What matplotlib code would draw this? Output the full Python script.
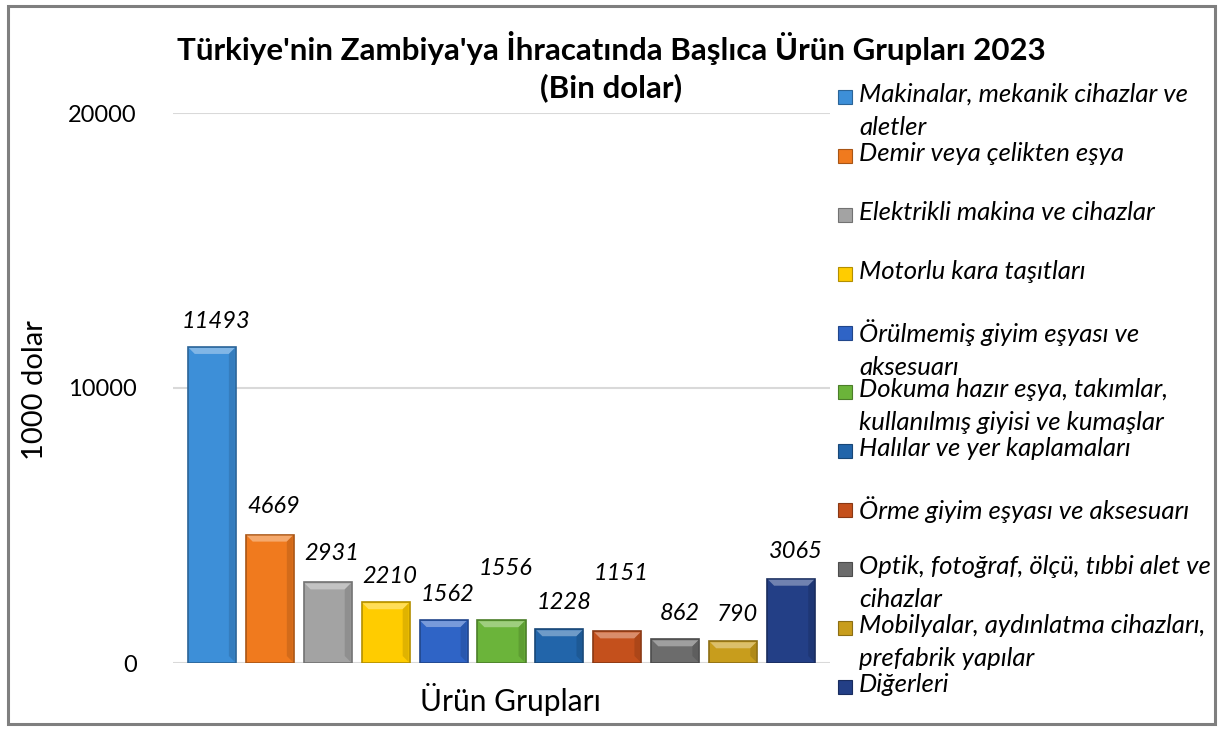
import matplotlib
matplotlib.use("Agg")
import matplotlib.pyplot as plt
from matplotlib.patches import Rectangle, Polygon
import matplotlib.colors as mcolors

plt.rcParams['font.family'] = ['Lato', 'DejaVu Sans']

categories = [
    "Makinalar, mekanik cihazlar ve\naletler",
    "Demir veya çelikten eşya",
    "Elektrikli makina ve cihazlar",
    "Motorlu kara taşıtları",
    "Örülmemiş giyim eşyası ve\naksesuarı",
    "Dokuma hazır eşya, takımlar,\nkullanılmış giyisi ve kumaşlar",
    "Halılar ve yer kaplamaları",
    "Örme giyim eşyası ve aksesuarı",
    "Optik, fotoğraf, ölçü, tıbbi alet ve\ncihazlar",
    "Mobilyalar, aydınlatma cihazları,\nprefabrik yapılar",
    "Diğerleri",
]
values = [11493, 4669, 2931, 2210, 1562, 1556, 1228, 1151, 862, 790, 3065]
colors = ["#3D8FD8", "#F07A1E", "#A3A3A3", "#FFCC00", "#2F64C6", "#6BB43A",
          "#2265AA", "#C4501C", "#6C6C6C", "#C89D1C", "#233F86"]
yticks = [0, 10000, 20000]
# label vertical offsets (points) above bar tops
label_offsets = [11, 13, 13, 11, 11, 30, 12, 34, 11, 12, 12]

W, H = 1223, 731
fig = plt.figure(figsize=(W / 100, H / 100), dpi=100)
fig.patch.set_facecolor("white")

# outer border
fig.add_artist(Rectangle((8 / W, 7 / H), 1207 / W, 718 / H, transform=fig.transFigure,
                         fill=False, edgecolor="#7F7F7F", linewidth=2.2))

ax = fig.add_axes([173 / W, 1 - 663 / H, (830 - 173) / W, (663 - 113) / H])
x = list(range(len(values)))
ax.set_xlim(-0.67, len(values) - 1 + 0.67)
ax.set_ylim(0, 20000)
ax.set_yticks(yticks)
ax.set_yticklabels([str(t) for t in yticks], fontsize=17)
ax.tick_params(axis="y", length=0, pad=26)
ax.set_xticks([])
for s in ax.spines.values():
    s.set_visible(False)
ax.grid(axis="y", color="#D9D9D9", linewidth=1.5)
ax.set_axisbelow(True)

width = 0.83
bars = ax.bar(x, values, width=width, color=colors, zorder=2)
for b, c in zip(bars, colors):
    dark = [v * 0.7 for v in mcolors.to_rgb(c)]
    b.set_edgecolor(dark)
    b.set_linewidth(1.2)

# bevel highlight on top
fig.canvas.draw()
bev = 7
base_y = ax.transData.transform((0, 0))[1]
for xi, v, c in zip(x, values, colors):
    (x0, y1) = ax.transData.transform((xi - width / 2, v))
    (x1, _) = ax.transData.transform((xi + width / 2, v))
    light = [min(1, t + (1 - t) * 0.35) for t in mcolors.to_rgb(c)]
    dark = [t * 0.8 for t in mcolors.to_rgb(c)]
    ax.add_patch(Polygon([(x0 + 1, y1 - 1), (x1 - 1, y1 - 1), (x1 - bev, y1 - bev), (x0 + bev, y1 - bev)],
                         closed=True, transform=None, facecolor=light, edgecolor="none", zorder=3))
    ax.add_patch(Polygon([(x1 - 1, y1 - 1), (x1 - 1, base_y + 1),
                          (x1 - bev, base_y + bev), (x1 - bev, y1 - bev)],
                         closed=True, transform=None, facecolor=dark, edgecolor="none", zorder=3, alpha=0.6))

for xi, v, off in zip(x, values, label_offsets):
    ax.annotate(str(v), (xi, v), xytext=(3, off), textcoords="offset points",
                ha="center", va="bottom", fontsize=17, style="italic")

fig.text(611 / W, 1 - 48 / H, "Türkiye'nin Zambiya'ya İhracatında Başlıca Ürün Grupları 2023",
         ha="center", va="center", fontsize=22.5, fontweight="bold")
fig.text(611 / W, 1 - 88 / H, "(Bin dolar)", ha="center", va="center", fontsize=22.5, fontweight="bold")

fig.text(35 / W, 1 - 390 / H, "1000 dolar", rotation=90, ha="center", va="center", fontsize=21)
fig.text(510 / W, 1 - 700 / H, "Ürün Grupları", ha="center", va="center", fontsize=21.5)

# legend
for i, (lab, c) in enumerate(zip(categories, colors)):
    yc = 97 + 59 * i
    fig.add_artist(Rectangle((838 / W, 1 - (yc + 7) / H), 14 / W, 14 / H, transform=fig.transFigure,
                             facecolor=c, edgecolor=[t * 0.7 for t in mcolors.to_rgb(c)], linewidth=0.8))
    fig.text(859 / W, 1 - (yc - 14) / H, lab, ha="left", va="top", fontsize=18.5, style="italic",
             linespacing=1.55)

fig.savefig("out.png", dpi=100)
